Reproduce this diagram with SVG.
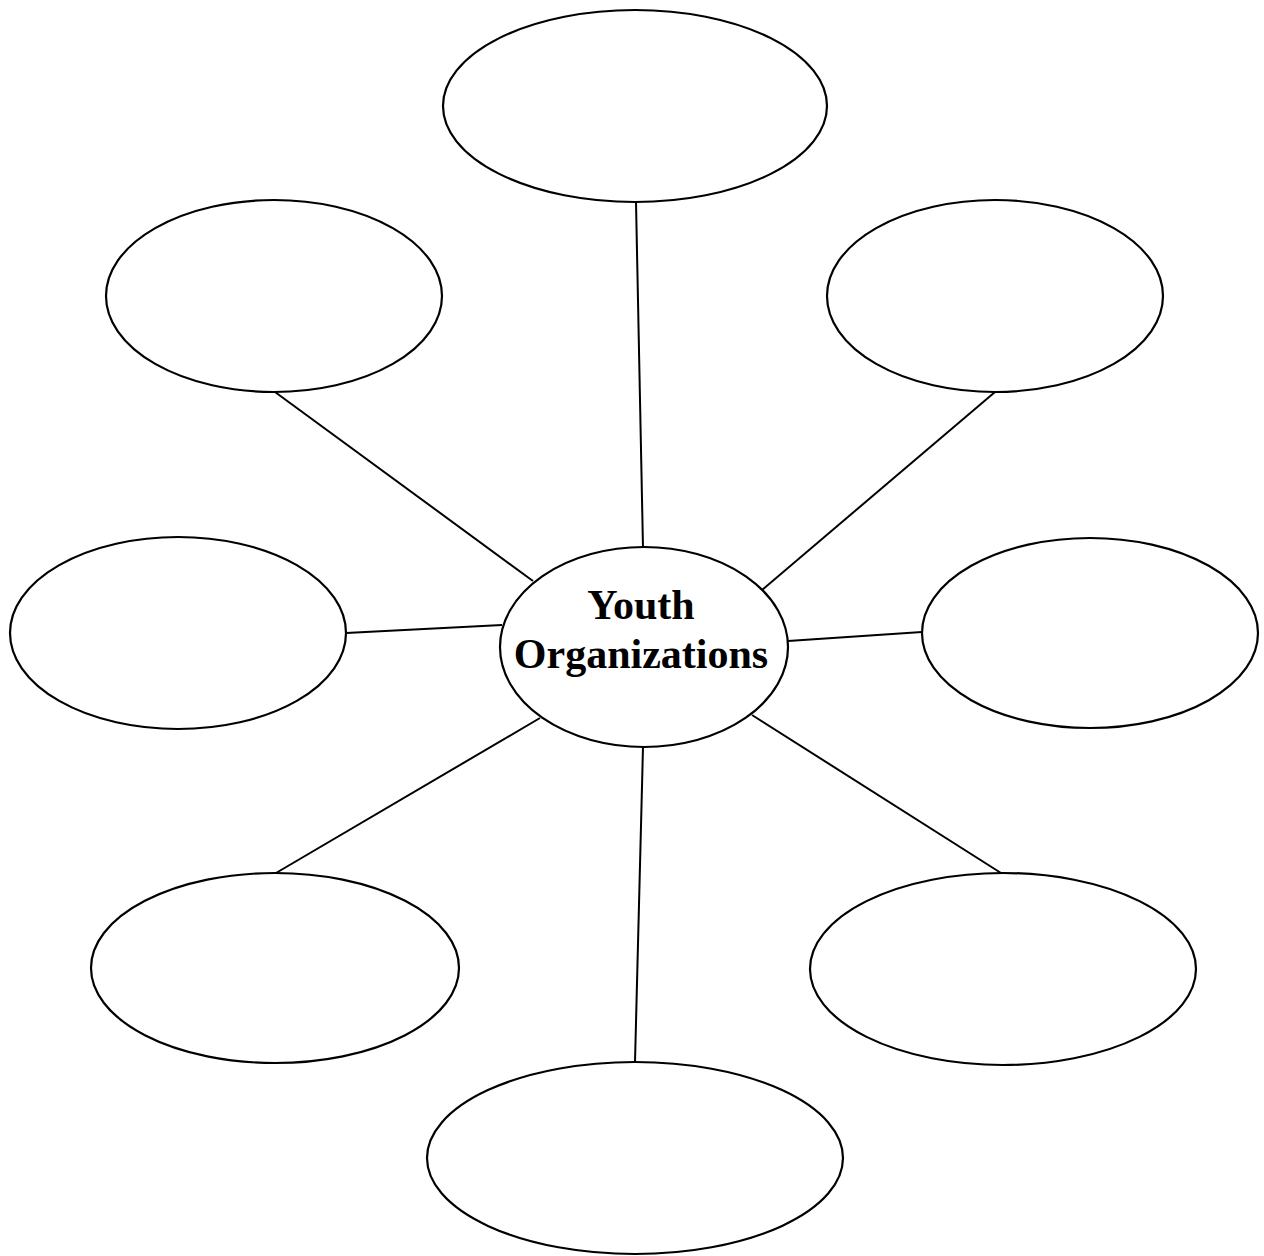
<svg xmlns="http://www.w3.org/2000/svg" width="1264" height="1256" viewBox="0 0 1264 1256">
  <style>
    .node { fill: #ffffff; stroke: #000000; stroke-width: 2.2; }
    .link { stroke: #000000; stroke-width: 2; fill: none; }
    .label { font-family: "Liberation Serif", "Times New Roman", serif; font-weight: bold; font-size: 42px; fill: #000000; text-anchor: middle; }
  </style>
  <rect width="1264" height="1256" fill="#ffffff"/>
  <g id="connectors">
    <line class="link" x1="636" y1="202" x2="643" y2="548"/>
    <line class="link" x1="275" y1="392" x2="533" y2="581"/>
    <line class="link" x1="995" y1="392" x2="762" y2="590"/>
    <line class="link" x1="346" y1="633" x2="502" y2="625"/>
    <line class="link" x1="788" y1="641" x2="922" y2="632"/>
    <line class="link" x1="276" y1="873" x2="540" y2="718"/>
    <line class="link" x1="1001" y1="873" x2="752" y2="715"/>
    <line class="link" x1="643" y1="747" x2="635" y2="1062"/>
  </g>
  <g id="center">
    <ellipse class="node" cx="644" cy="647" rx="144" ry="100"/>
    <text class="label" x="641" y="619">Youth</text>
    <text class="label" x="641" y="668">Organizations</text>
  </g>
  <g id="top"><ellipse class="node" cx="635" cy="106" rx="192" ry="96"/></g>
  <g id="upper-left"><ellipse class="node" cx="274" cy="296" rx="168" ry="96"/></g>
  <g id="upper-right"><ellipse class="node" cx="995" cy="296" rx="168" ry="96"/></g>
  <g id="left"><ellipse class="node" cx="178" cy="633" rx="168" ry="96"/></g>
  <g id="right"><ellipse class="node" cx="1090" cy="633" rx="168" ry="95"/></g>
  <g id="lower-left"><ellipse class="node" cx="275" cy="968" rx="184" ry="95"/></g>
  <g id="lower-right"><ellipse class="node" cx="1003" cy="969" rx="193" ry="96"/></g>
  <g id="bottom"><ellipse class="node" cx="635" cy="1158" rx="208" ry="96"/></g>
</svg>
